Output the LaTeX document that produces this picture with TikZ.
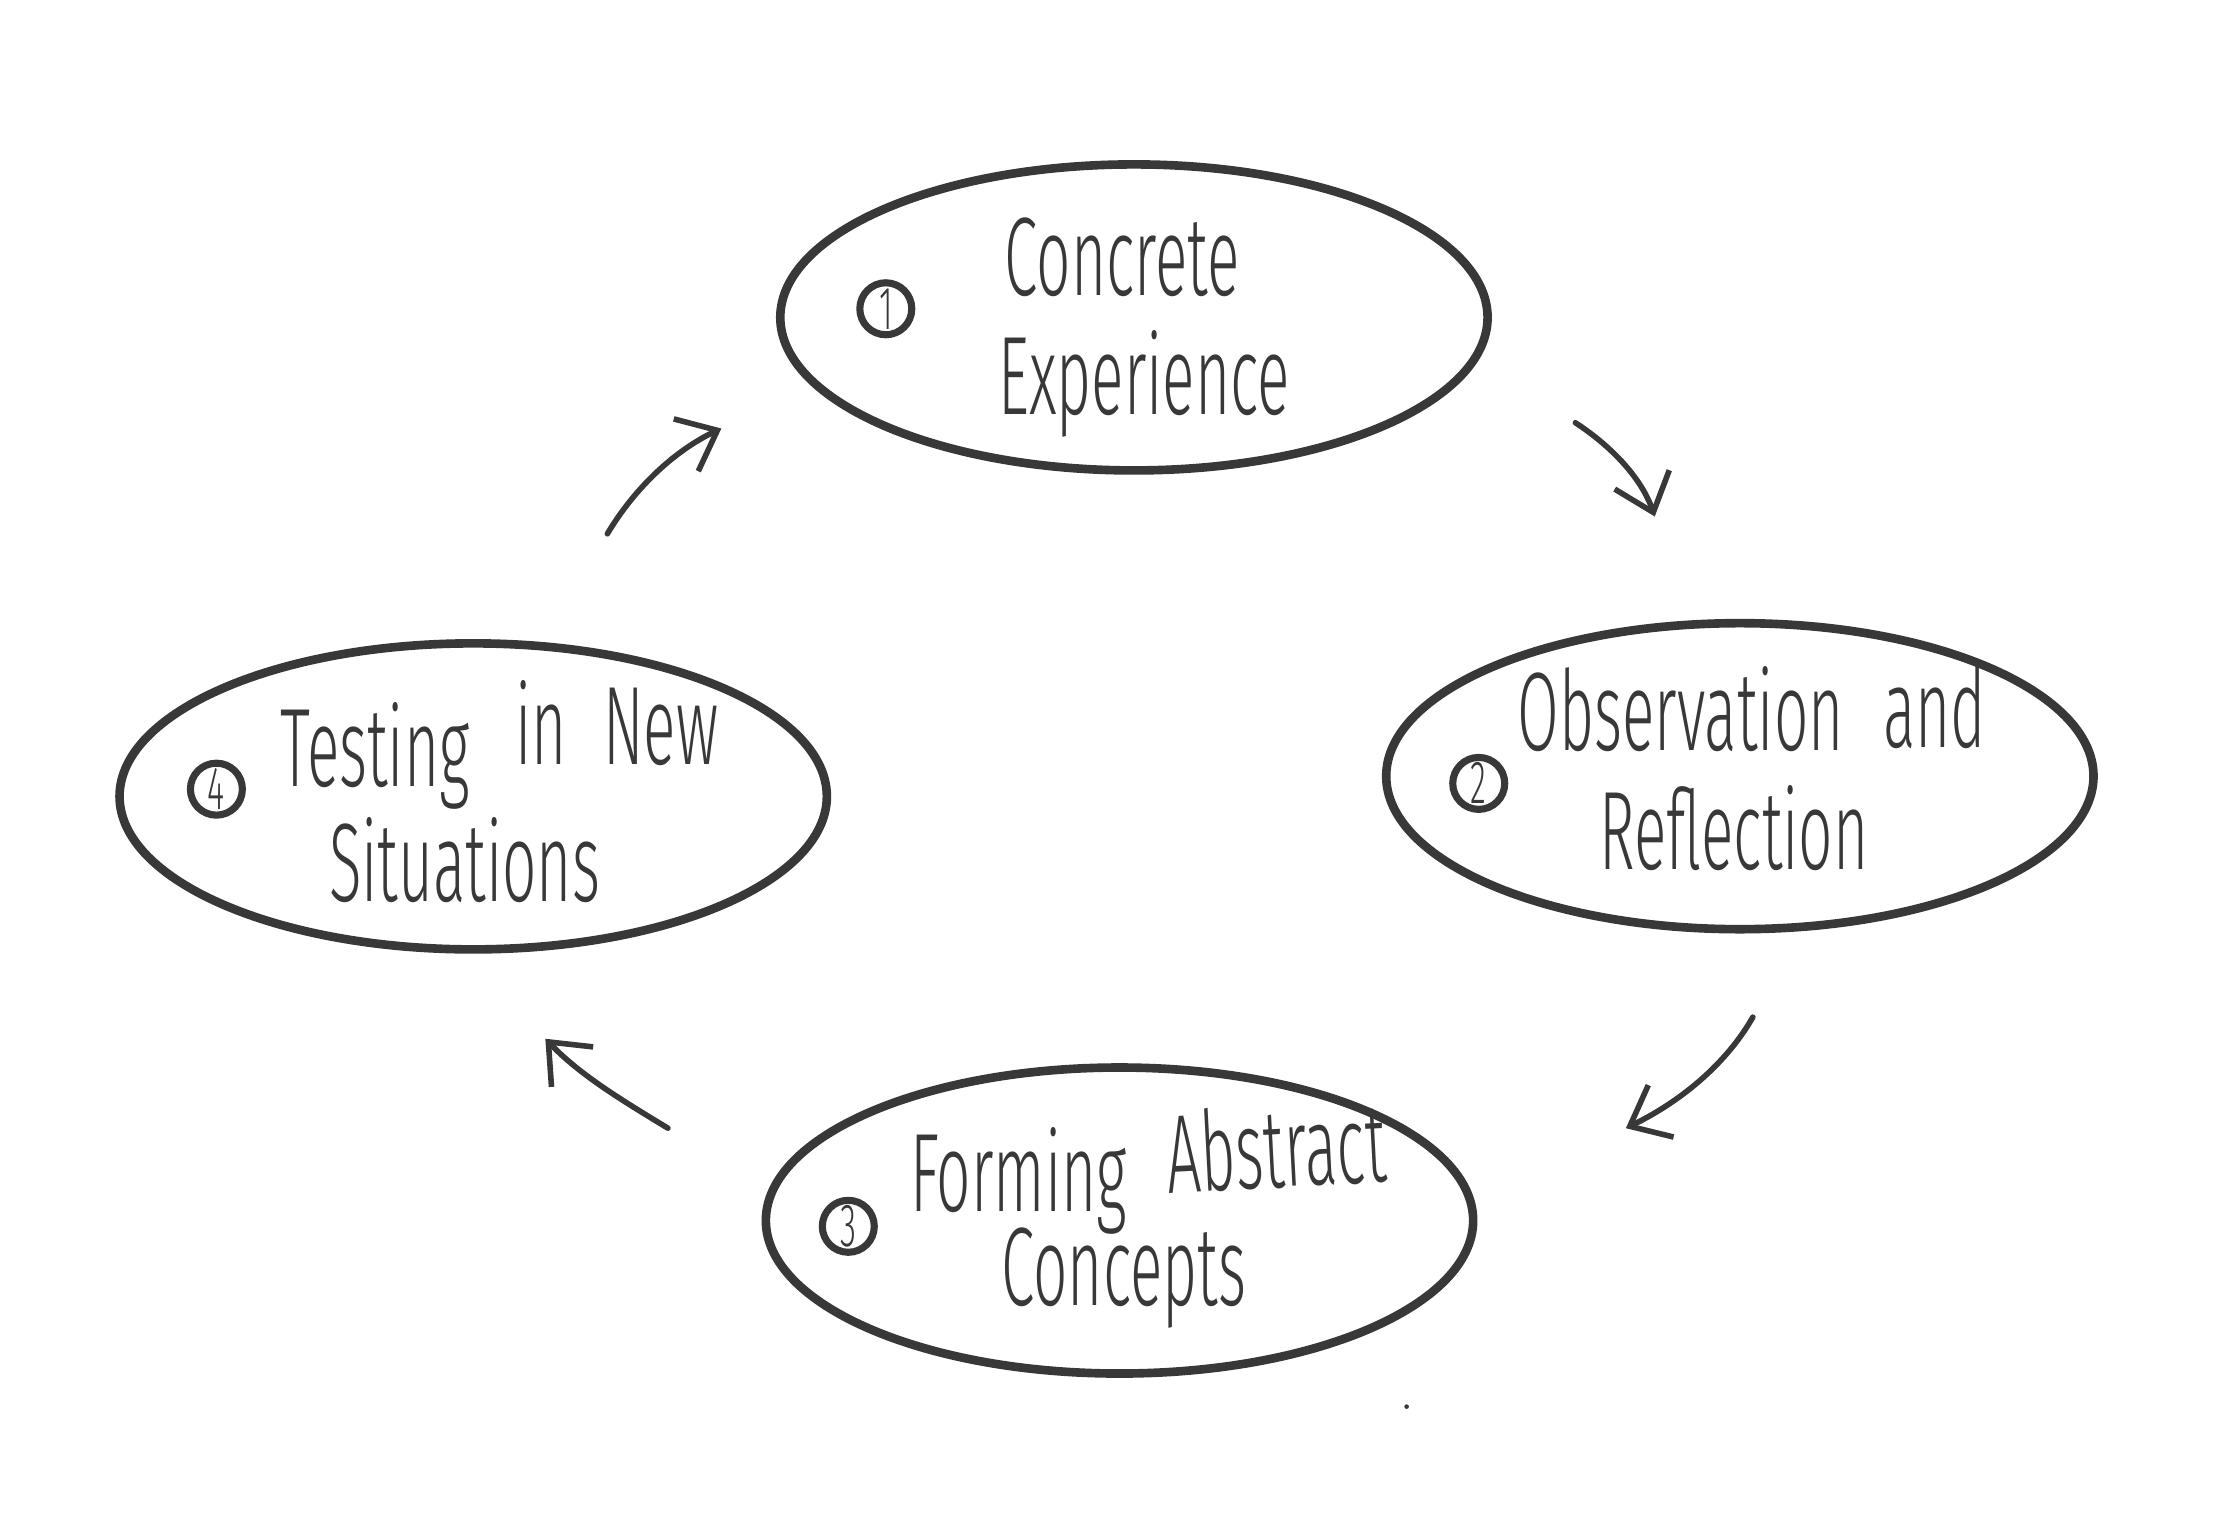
\documentclass[tikz,border=0pt]{standalone}
\usepackage{fontspec}
\setmainfont{Fira Sans Light}[FakeStretch=0.54]
\usetikzlibrary{arrows.meta,shapes.geometric}
\definecolor{ink}{HTML}{383838}
\begin{document}
\begin{tikzpicture}[x=0.01cm,y=-0.01cm,
  bubble/.style={draw=ink,line width=1.7pt,ellipse,inner sep=0pt,minimum width=4.9cm,minimum height=2.12cm},
  word/.style={text=ink,inner sep=0pt,anchor=base,font=\fontsize{22}{26}\selectfont},
  numc/.style={draw=ink,circle,line width=1.4pt,inner sep=0pt,minimum size=0.36cm,text=ink,font=\fontsize{12}{13}\selectfont},
  link/.style={draw=ink,line width=1.1pt,line cap=round,-{Straight Barb[length=2.4mm,width=4mm,line width=1.1pt]}}]
\useasboundingbox (0,0) rectangle (1552,1056);
\fill[white] (0,0) rectangle (1552,1056);
% ellipses
\node[bubble] (e1) at (786,220) {};
\node[bubble] (e2) at (1206,538) {};
\node[bubble] (e3) at (776,846) {};
\node[bubble] (e4) at (328,552) {};
% circled numbers
\node[numc] (n1) at (614,214) {1};
\node[numc] (n2) at (1025,543) {2};
\node[numc] (n3) at (588,850) {3};
\node[numc] (n4) at (150,547) {4};
% texts
\node[word] (t1a) at (778,205) {Concrete};
\node[word] (t1b) at (793,287) {Experience};
\node[word] (t2a) at (1165,520) {Observation};
\node[word] (t2b) at (1341,518) {and};
\node[word] (t2c) at (1202,603) {Reflection};
\node[word] (t3a) at (706,840) {Forming};
\node[word,rotate=3] (t3b) at (886,823) {Abstract};
\node[word] (t3c) at (779,905) {Concepts};
\node[word] (t4a) at (260,545) {Testing};
\node[word] (t4b) at (375,530) {in};
\node[word] (t4c) at (458,530) {New};
\node[word] (t4d) at (322,625) {Situations};
% arrows
\coordinate (a1s) at (1092,293);
\coordinate (a1e) at (1147,358);
\coordinate (a2s) at (1215,705);
\coordinate (a2e) at (1127,782);
\coordinate (a3s) at (463,782);
\coordinate (a3e) at (378,720);
\coordinate (a4s) at (421,370);
\coordinate (a4e) at (500,297);
\draw[link] (a1s) .. controls (1118,310) and (1138,332) .. (a1e);
\draw[link] (a2s) .. controls (1198,735) and (1168,762) .. (a2e);
\draw[link] (a3s) .. controls (430,762) and (402,745) .. (a3e);
\draw[link] (a4s) .. controls (440,338) and (468,312) .. (a4e);
% stray dot
\fill[ink] (975,975) circle (1.6);
\end{tikzpicture}
\end{document}
